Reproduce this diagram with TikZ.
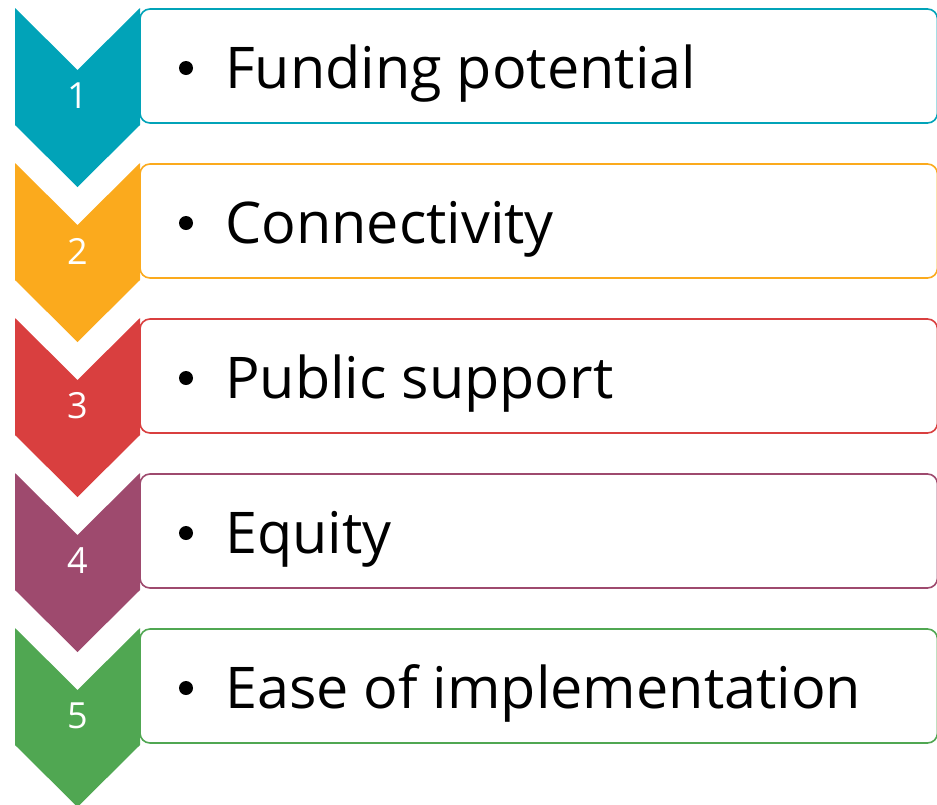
\documentclass[tikz,border=0pt]{standalone}
\usepackage{fontspec}
\setmainfont{Open Sans}
\definecolor{cA}{HTML}{01A3B8}
\definecolor{cB}{HTML}{FBAA1D}
\definecolor{cC}{HTML}{D93F3F}
\definecolor{cD}{HTML}{9E4A6E}
\definecolor{cE}{HTML}{50A752}
\tikzset{
  itembox/.style={draw=#1, line width=1.6pt, fill=white, rounded corners=10pt},
  chev/.style={fill=#1, draw=none},
  numlabel/.style={text=white, font=\fontsize{36}{36}\selectfont, inner sep=0pt},
  itemtext/.style={anchor=base west, inner sep=0pt, font=\fontsize{57.5}{57.5}\selectfont},
  bulletdot/.style={circle, fill=black, inner sep=0pt, minimum size=14pt}
}
\begin{document}
\begin{tikzpicture}[x=1pt,y=-1pt]
\useasboundingbox (0,0) rectangle (937,804);
\begin{scope}
\clip (0,0) rectangle (937,804);
\foreach \i/\col/\txt in {0/cA/Funding potential,1/cB/Connectivity,2/cC/Public support,3/cD/Equity,4/cE/Ease of implementation}{
  \pgfmathsetmacro{\t}{8+155*\i}
  % text panel
  \draw[itembox=\col] (140,\t+1) rectangle (937.5,\t+115);
  % chevron
  \fill[chev=\col] (15,\t) -- (77.5,\t+62) -- (140,\t) -- (140,\t+117) -- (77.5,\t+179) -- (15,\t+117) -- cycle;
  \node[numlabel] (num\i) at (77.5,\t+88) {\the\numexpr\i+1\relax};
  \node[bulletdot] (dot\i) at (186,\t+60) {};
  \node[itemtext] (item\i) at (225,\t+80) {\txt};
}
\end{scope}
\end{tikzpicture}
\end{document}
